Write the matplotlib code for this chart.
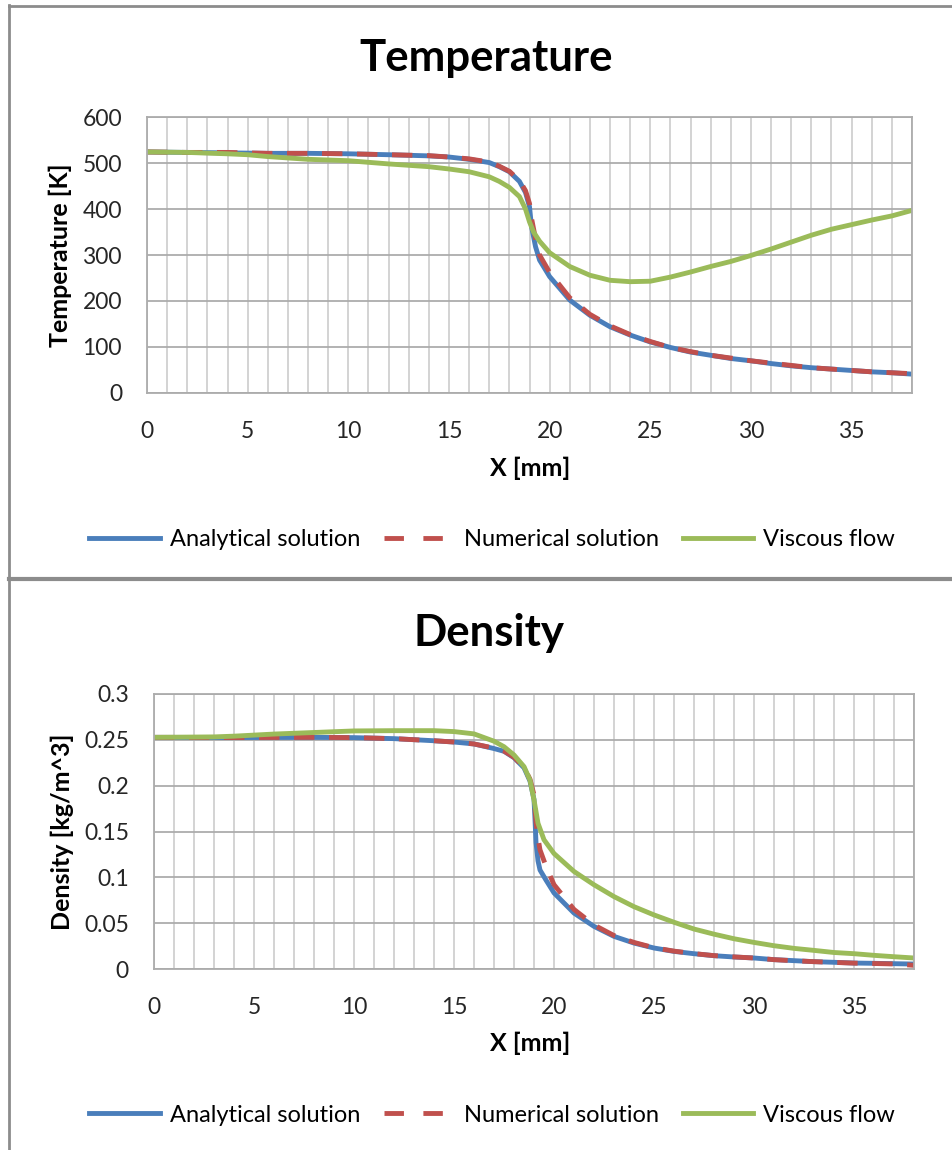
import matplotlib
matplotlib.use("Agg")
import matplotlib.pyplot as plt
from matplotlib.lines import Line2D

plt.rcParams['font.family'] = ['Lato', 'DejaVu Sans']

# temperature, analytical / numerical
x_t = [0, 2, 4, 6, 8, 10, 12, 14, 15, 16, 17, 17.5, 18, 18.5, 18.8, 19.0, 19.1, 19.3, 19.5, 20,
       21, 22, 23, 24, 25, 26, 27, 28, 29, 30, 31, 32, 33, 34, 35, 36, 37, 38]
T_an = [524, 523, 522, 521, 521, 520, 518, 515.5, 513, 508, 501, 492, 481, 460, 436, 405, 362, 318, 289, 253,
        202, 169, 144, 126, 111, 99, 89, 82, 75, 70, 64, 59, 55, 52, 49, 46, 44, 41]
T_num = [524, 523, 523, 521, 521, 520, 518, 516, 513, 509, 502, 493, 482, 462, 440, 412, 380, 335, 300, 262,
         207, 171, 146, 127, 112, 99, 90, 82, 76, 70, 65, 60, 55, 52, 49, 46, 44, 42]

# temperature, viscous flow
x_tv = [0, 2, 4, 5, 6, 8, 10, 12, 14, 15, 16, 17, 17.5, 18, 18.5, 18.8, 19, 19.2, 19.5, 20,
        21, 22, 23, 24, 25, 26, 27, 28, 29, 30, 31, 32, 33, 34, 35, 36, 37, 38]
T_vis = [524, 523, 520, 518, 514, 508, 505, 498, 492, 487, 481, 470, 460, 447, 427, 400, 372, 350, 330, 305,
         275, 256, 245, 242, 243, 252, 263, 275, 286, 299, 313, 328, 343, 356, 366, 376, 385, 397]

# density, analytical / numerical
x_d = [0, 4, 8, 10, 12, 14, 15, 16, 17, 17.5, 18, 18.5, 18.8, 19, 19.05, 19.1, 19.2, 19.3, 19.6, 20,
       21, 22, 23, 24, 25, 26, 27, 28, 29, 30, 31, 32, 33, 34, 35, 36, 37, 38]
rho_an = [0.2527, 0.2525, 0.2527, 0.2524, 0.2513, 0.249, 0.2476, 0.2455, 0.2405, 0.2375, 0.2305, 0.2195, 0.205,
          0.185, 0.163, 0.138, 0.118, 0.108, 0.097, 0.083,
          0.061, 0.0465, 0.0356, 0.0283, 0.0229, 0.0192, 0.0167, 0.0145, 0.0131, 0.012, 0.0102, 0.0091, 0.008,
          0.0073, 0.0065, 0.0062, 0.0058, 0.0054]
rho_num = [0.2527, 0.2525, 0.2527, 0.2524, 0.2513, 0.249, 0.2476, 0.2455, 0.241, 0.2378, 0.231, 0.22, 0.207,
           0.19, 0.175, 0.16, 0.143, 0.13, 0.112, 0.092,
           0.065, 0.048, 0.0365, 0.029, 0.0232, 0.0195, 0.0168, 0.0146, 0.0132, 0.012, 0.0102, 0.009, 0.008,
           0.0072, 0.0064, 0.006, 0.0055, 0.004]

# density, viscous flow
x_dv = [0, 3, 4, 6, 8, 10, 12, 14, 15, 16, 17, 17.5, 18, 18.5, 18.8, 19, 19.2, 19.5, 20,
        21, 22, 23, 24, 25, 26, 27, 28, 29, 30, 31, 32, 33, 34, 35, 36, 37, 38]
rho_vis = [0.2527, 0.2532, 0.254, 0.2563, 0.258, 0.2597, 0.26, 0.26, 0.259, 0.2565, 0.2485, 0.2425, 0.2335,
           0.2208, 0.206, 0.1845, 0.159, 0.141, 0.126,
           0.1064, 0.0919, 0.079, 0.068, 0.059, 0.051, 0.0436, 0.038, 0.033, 0.029, 0.0254, 0.0225, 0.0203,
           0.018, 0.0167, 0.0149, 0.0134, 0.012]

labels = ['Analytical solution', 'Numerical solution', 'Viscous flow']
blue, red, green = '#4a7ebb', '#c0504d', '#9bbb59'
W, H = 953, 1150

fig = plt.figure(figsize=(W / 100, H / 100), dpi=100)


def fx(px):
    return px / W


def fy(py):
    return 1 - py / H


def panel(box, xs, ys, ytop, ystep, yfmt):
    l, t, r, b = box
    ax = fig.add_axes([fx(l), fy(b), fx(r) - fx(l), fy(t) - fy(b)])
    ax.plot(xs[0], ys[0], color=blue, lw=3.5, solid_capstyle='round')
    ax.plot(xs[1], ys[1], color=red, lw=3.5, dashes=(4.2, 3.0))
    ax.plot(xs[2], ys[2], color=green, lw=3.5, solid_capstyle='round')
    ax.set_xlim(0, 38)
    ax.set_ylim(0, ytop)
    ax.set_xticks(range(0, 36, 5))
    ax.set_xticks(range(0, 39), minor=True)
    n = int(round(ytop / ystep))
    ax.set_yticks([i * ystep for i in range(n + 1)])
    ax.set_yticklabels([yfmt(i * ystep) for i in range(n + 1)])
    ax.grid(True, which='both', axis='x', color='#c8c8c8', lw=1.1)
    ax.grid(True, which='major', axis='y', color='#acacac', lw=1.3)
    ax.set_axisbelow(True)
    ax.tick_params(which='both', length=0, labelsize=16.5, colors='#262626')
    ax.tick_params(axis='y', pad=18)
    ax.tick_params(axis='x', pad=20)
    for s in ax.spines.values():
        s.set_color('#acacac')
        s.set_linewidth(1.3)
    return ax


panel((147, 117, 912, 393), (x_t, x_t, x_tv), (T_an, T_num, T_vis), 600, 100, lambda v: '%d' % v)
panel((154, 694, 914, 969), (x_d, x_d, x_dv), (rho_an, rho_num, rho_vis), 0.3, 0.05,
      lambda v: '0' if v == 0 else ('%.2f' % v).rstrip('0'))

# titles and axis labels
fig.text(fx(486), fy(58), 'Temperature', ha='center', va='center', fontsize=31.5, fontweight='bold')
fig.text(fx(489), fy(633), 'Density', ha='center', va='center', fontsize=31.5, fontweight='bold')
fig.text(fx(60), fy(255), 'Temperature [K]', ha='center', va='center', rotation=90, fontsize=18, fontweight='bold')
fig.text(fx(62), fy(832), 'Density [kg/m^3]', ha='center', va='center', rotation=90, fontsize=18, fontweight='bold')
fig.text(fx(530), fy(468), 'X [mm]', ha='center', va='center', fontsize=18, fontweight='bold')
fig.text(fx(530), fy(1043), 'X [mm]', ha='center', va='center', fontsize=18, fontweight='bold')

# legends
handles = [Line2D([], [], color=blue, lw=3.5),
           Line2D([], [], color=red, lw=3.5, dashes=(4.0, 4.0)),
           Line2D([], [], color=green, lw=3.5)]
for cy in (540, 1115):
    fig.legend(handles, labels, loc='center', bbox_to_anchor=(fx(492), fy(cy)), ncol=3, frameon=False,
               fontsize=17, handlelength=3.0, handletextpad=0.4, columnspacing=1.0)

# chart borders
border = '#8c8c8c'
fig.add_artist(Line2D([fx(9), fx(9)], [fy(5), 0], color=border, lw=2))
fig.add_artist(Line2D([fx(9), 1], [fy(6), fy(6)], color=border, lw=2))
fig.add_artist(Line2D([fx(9), 1], [fy(579), fy(579)], color=border, lw=3))

fig.savefig('out.png', dpi=100)
